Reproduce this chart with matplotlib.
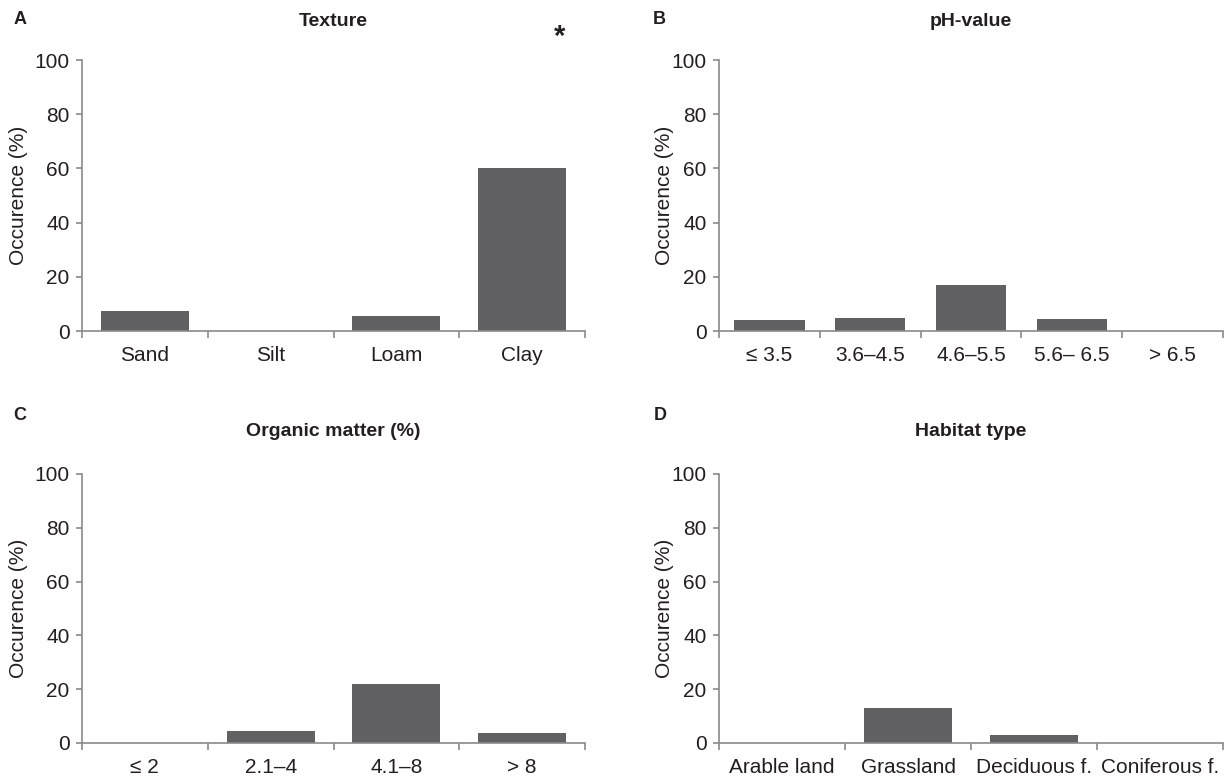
import matplotlib
matplotlib.use("Agg")
import matplotlib.pyplot as plt
import numpy as np
from matplotlib.ticker import FixedLocator, NullFormatter

plt.rcParams['font.family'] = ['Liberation Sans', 'DejaVu Sans']

# Panel data: occurrence (%) per class
texture_labels = ["Sand", "Silt", "Loam", "Clay"]
texture_values = [7.3, 0, 5.5, 60]

ph_labels = ["\u2264 3.5", "3.6\u20134.5", "4.6\u20135.5", "5.6\u2013 6.5", "> 6.5"]
ph_values = [4.0, 4.9, 17.0, 4.5, 0]

organic_labels = ["\u2264 2", "2.1\u20134", "4.1\u20138", "> 8"]
organic_values = [0, 4.4, 22.0, 3.7]

habitat_labels = ["Arable land", "Grassland", "Deciduous f.", "Coniferous f."]
habitat_values = [0, 13.0, 2.8, 0]

panel_letters = ["A", "B", "C", "D"]
panel_titles = ["Texture", "pH-value", "Organic matter (%)", "Habitat type"]
y_ticks = [0, 20, 40, 60, 80, 100]

BAR = "#616163"
SPINE = "#8a8a8c"
TEXT = "#231f20"
FS = 15

W, H = 1227, 780
fig = plt.figure(figsize=(W / 100, H / 100), dpi=100)


def px_rect(left, right, top, bottom):
    return [left / W, 1 - bottom / H, (right - left) / W, (bottom - top) / H]


layout = [
    px_rect(82, 585, 60, 331),
    px_rect(719, 1223, 60, 331),
    px_rect(82, 585, 474, 743),
    px_rect(719, 1223, 474, 743),
]
letter_pos = [(20, 19), (659, 19), (20, 415), (660, 415)]
title_y = [21, 21, 431, 431]
ylabel_x = [19, 664, 19, 664]

datasets = [
    (texture_labels, texture_values),
    (ph_labels, ph_values),
    (organic_labels, organic_values),
    (habitat_labels, habitat_values),
]

for i, (labels, values) in enumerate(datasets):
    ax = fig.add_axes(layout[i])
    n = len(labels)
    centers = np.arange(n) + 0.5
    ax.bar(centers, values, width=0.7, color=BAR, edgecolor="none", zorder=2)
    ax.set_xlim(0, n)
    ax.set_ylim(0, 100)

    for side in ("top", "right"):
        ax.spines[side].set_visible(False)
    for side in ("left", "bottom"):
        ax.spines[side].set_color(SPINE)
        ax.spines[side].set_linewidth(1.2)

    ax.set_yticks(y_ticks)
    ax.tick_params(axis="y", direction="out", length=4, width=1.2, color=SPINE,
                   labelsize=FS, labelcolor=TEXT, pad=5)

    # category labels at centres, tick marks at class boundaries
    ax.set_xticks(centers)
    ax.set_xticklabels(labels)
    ax.xaxis.set_minor_locator(FixedLocator(np.arange(n + 1)))
    ax.xaxis.set_minor_formatter(NullFormatter())
    ax.tick_params(axis="x", which="major", length=0, labelsize=FS,
                   labelcolor=TEXT, pad=11)
    ax.tick_params(axis="x", which="minor", direction="out", length=5,
                   width=1.2, color=SPINE)

    ymid = layout[i][1] + layout[i][3] / 2
    fig.text(ylabel_x[i] / W, ymid, "Occurence (%)", rotation=90,
             ha="center", va="center", fontsize=FS, color=TEXT)

    cx = layout[i][0] + layout[i][2] / 2
    fig.text(cx, 1 - title_y[i] / H, panel_titles[i], ha="center", va="center",
             fontsize=14, fontweight="bold", color=TEXT)
    lx, ly = letter_pos[i]
    fig.text(lx / W, 1 - ly / H, panel_letters[i], ha="center", va="center",
             fontsize=13, fontweight="bold", color=TEXT)

# significance marker above the clay class
fig.text(560 / W, 1 - 37 / H, "*", ha="center", va="center",
         fontsize=21, fontweight="bold", color=TEXT)

fig.savefig("out.png", dpi=100)
